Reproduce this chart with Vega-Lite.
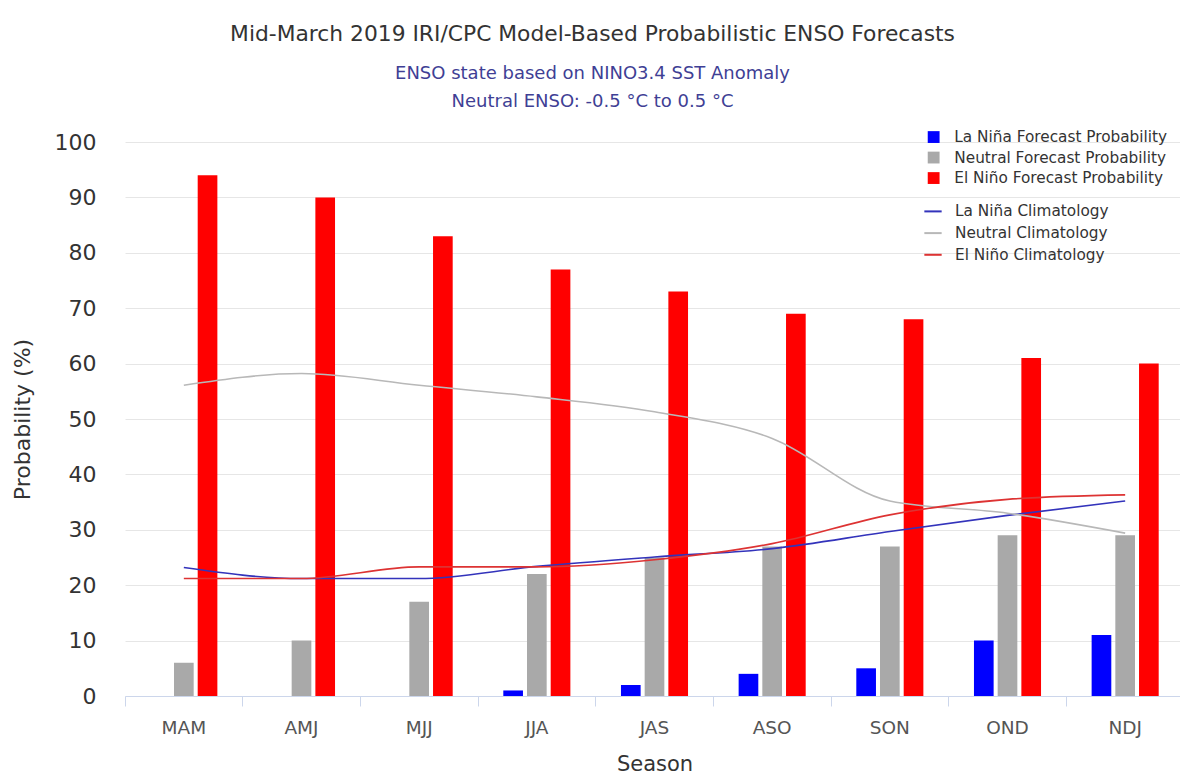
{
  "$schema": "https://vega.github.io/schema/vega-lite/v6.json",
  "width": 1055,
  "height": 554,
  "autosize": "none",
  "padding": {"left": 125, "top": 142, "right": 0, "bottom": 79},
  "background": "white",
  "config": {"view": {"stroke": null}, "font": "DejaVu Sans"},
  "title": {
    "text": "Mid-March 2019 IRI/CPC Model-Based Probabilistic ENSO Forecasts",
    "subtitle": ["ENSO state based on NINO3.4 SST Anomaly", "Neutral ENSO: -0.5 °C to 0.5 °C"],
    "anchor": "middle",
    "dx": -60,
    "font": "DejaVu Sans",
    "fontSize": 21.8,
    "fontWeight": "normal",
    "color": "#333333",
    "subtitleFont": "DejaVu Sans",
    "subtitleFontSize": 18,
    "subtitleColor": "#3f3f95",
    "subtitleLineHeight": 28,
    "subtitlePadding": 19,
    "offset": 18.5
  },
  "datasets": {
    "bars": [
      {"season": "MAM", "series": "La Niña Forecast Probability", "value": 0},
      {"season": "MAM", "series": "Neutral Forecast Probability", "value": 6},
      {"season": "MAM", "series": "El Niño Forecast Probability", "value": 94},
      {"season": "AMJ", "series": "La Niña Forecast Probability", "value": 0},
      {"season": "AMJ", "series": "Neutral Forecast Probability", "value": 10},
      {"season": "AMJ", "series": "El Niño Forecast Probability", "value": 90},
      {"season": "MJJ", "series": "La Niña Forecast Probability", "value": 0},
      {"season": "MJJ", "series": "Neutral Forecast Probability", "value": 17},
      {"season": "MJJ", "series": "El Niño Forecast Probability", "value": 83},
      {"season": "JJA", "series": "La Niña Forecast Probability", "value": 1},
      {"season": "JJA", "series": "Neutral Forecast Probability", "value": 22},
      {"season": "JJA", "series": "El Niño Forecast Probability", "value": 77},
      {"season": "JAS", "series": "La Niña Forecast Probability", "value": 2},
      {"season": "JAS", "series": "Neutral Forecast Probability", "value": 25},
      {"season": "JAS", "series": "El Niño Forecast Probability", "value": 73},
      {"season": "ASO", "series": "La Niña Forecast Probability", "value": 4},
      {"season": "ASO", "series": "Neutral Forecast Probability", "value": 27},
      {"season": "ASO", "series": "El Niño Forecast Probability", "value": 69},
      {"season": "SON", "series": "La Niña Forecast Probability", "value": 5},
      {"season": "SON", "series": "Neutral Forecast Probability", "value": 27},
      {"season": "SON", "series": "El Niño Forecast Probability", "value": 68},
      {"season": "OND", "series": "La Niña Forecast Probability", "value": 10},
      {"season": "OND", "series": "Neutral Forecast Probability", "value": 29},
      {"season": "OND", "series": "El Niño Forecast Probability", "value": 61},
      {"season": "NDJ", "series": "La Niña Forecast Probability", "value": 11},
      {"season": "NDJ", "series": "Neutral Forecast Probability", "value": 29},
      {"season": "NDJ", "series": "El Niño Forecast Probability", "value": 60}
    ],
    "lines": [
      {"season": "MAM", "series": "La Niña Climatology", "value": 23.2},
      {"season": "AMJ", "series": "La Niña Climatology", "value": 21.2},
      {"season": "MJJ", "series": "La Niña Climatology", "value": 21.2},
      {"season": "JJA", "series": "La Niña Climatology", "value": 23.4},
      {"season": "JAS", "series": "La Niña Climatology", "value": 25.1},
      {"season": "ASO", "series": "La Niña Climatology", "value": 26.6},
      {"season": "SON", "series": "La Niña Climatology", "value": 29.7},
      {"season": "OND", "series": "La Niña Climatology", "value": 32.6},
      {"season": "NDJ", "series": "La Niña Climatology", "value": 35.2},
      {"season": "MAM", "series": "Neutral Climatology", "value": 56.1},
      {"season": "AMJ", "series": "Neutral Climatology", "value": 58.2},
      {"season": "MJJ", "series": "Neutral Climatology", "value": 56.1},
      {"season": "JJA", "series": "Neutral Climatology", "value": 54.0},
      {"season": "JAS", "series": "Neutral Climatology", "value": 51.3},
      {"season": "ASO", "series": "Neutral Climatology", "value": 46.5},
      {"season": "SON", "series": "Neutral Climatology", "value": 35.2},
      {"season": "OND", "series": "Neutral Climatology", "value": 33.0},
      {"season": "NDJ", "series": "Neutral Climatology", "value": 29.4},
      {"season": "MAM", "series": "El Niño Climatology", "value": 21.2},
      {"season": "AMJ", "series": "El Niño Climatology", "value": 21.2},
      {"season": "MJJ", "series": "El Niño Climatology", "value": 23.3},
      {"season": "JJA", "series": "El Niño Climatology", "value": 23.3},
      {"season": "JAS", "series": "El Niño Climatology", "value": 24.6},
      {"season": "ASO", "series": "El Niño Climatology", "value": 27.5},
      {"season": "SON", "series": "El Niño Climatology", "value": 32.7},
      {"season": "OND", "series": "El Niño Climatology", "value": 35.5},
      {"season": "NDJ", "series": "El Niño Climatology", "value": 36.3}
    ]
  },
  "encoding": {
    "x": {
      "field": "season",
      "type": "nominal",
      "sort": ["MAM", "AMJ", "MJJ", "JJA", "JAS", "ASO", "SON", "OND", "NDJ"],
      "scale": {"range": [0, 1059], "paddingInner": 0.43, "paddingOuter": 0.215},
      "axis": {
        "bandPosition": -0.377,
        "labelOffset": 0,
        "labelAngle": 0,
        "tickSize": 10,
        "tickColor": "#ccd6eb",
        "domainColor": "#ccd6eb",
        "labelFontSize": 18.5,
        "labelColor": "#555555",
        "labelPadding": 12,
        "title": "Season",
        "titleFontSize": 21,
        "titleFontWeight": "normal",
        "titleColor": "#333333",
        "titleY": 68.5,
        "titleBaseline": "middle",
        "grid": false
      }
    },
    "y": {
      "field": "value",
      "type": "quantitative",
      "scale": {"domain": [0, 100], "nice": false},
      "axis": {
        "values": [0, 10, 20, 30, 40, 50, 60, 70, 80, 90, 100],
        "grid": true,
        "gridColor": "#e6e6e6",
        "domain": false,
        "ticks": false,
        "labelFontSize": 22,
        "labelColor": "#333333",
        "labelPadding": 29,
        "title": "Probability (%)",
        "titleFontSize": 22,
        "titleFontWeight": "normal",
        "titleColor": "#333333",
        "titleX": -103,
        "titleY": 277,
        "titleAngle": -90,
        "titleAlign": "center",
        "titleBaseline": "middle"
      }
    }
  },
  "layer": [
    {
      "data": {"name": "bars"},
      "mark": {"type": "bar"},
      "encoding": {
        "xOffset": {
          "field": "series",
          "type": "nominal",
          "sort": ["La Niña Forecast Probability", "Neutral Forecast Probability", "El Niño Forecast Probability"],
          "scale": {"paddingInner": 0.17, "paddingOuter": 0}
        },
        "fill": {
          "field": "series",
          "type": "nominal",
          "scale": {
            "domain": ["La Niña Forecast Probability", "Neutral Forecast Probability", "El Niño Forecast Probability"],
            "range": ["#0000ff", "#a9a9a9", "#ff0000"]
          },
          "legend": {
            "orient": "none",
            "legendX": 801,
            "legendY": -12.6,
            "title": null,
            "padding": 0,
            "symbolType": "square",
            "symbolSize": 140,
            "symbolStrokeWidth": 0,
            "labelFontSize": 15.3,
            "labelLimit": 400,
            "labelColor": "#333333",
            "labelOffset": 13,
            "rowPadding": 4.5
          }
        }
      }
    },
    {
      "data": {"name": "lines"},
      "mark": {"type": "line", "interpolate": "monotone", "strokeWidth": 1.6},
      "encoding": {
        "stroke": {
          "field": "series",
          "type": "nominal",
          "scale": {
            "domain": ["La Niña Climatology", "Neutral Climatology", "El Niño Climatology"],
            "range": ["#3333bb", "#b8b8b8", "#dd3333"]
          },
          "legend": {
            "orient": "none",
            "legendX": 798,
            "legendY": 59.4,
            "title": null,
            "padding": 0,
            "symbolType": "stroke",
            "symbolSize": 300,
            "symbolStrokeWidth": 2,
            "labelFontSize": 15.3,
            "labelLimit": 400,
            "labelColor": "#333333",
            "labelOffset": 12,
            "rowPadding": 2.7
          }
        }
      }
    }
  ]
}
